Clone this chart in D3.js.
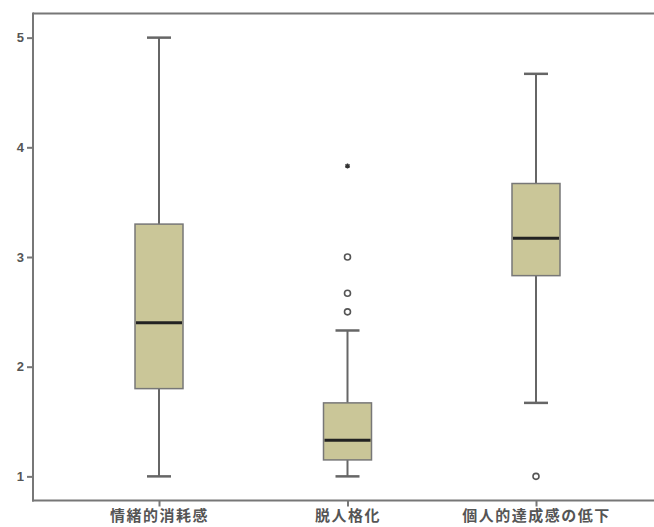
<!DOCTYPE html>
<html><head><meta charset="utf-8">
<script src="https://cdn.jsdelivr.net/npm/d3@7"></script>
<style>body{margin:0;background:#fff;}svg{display:block;}</style>
</head><body>
<svg id="c" width="654" height="527"></svg>
<script>
const categories = ["情緒的消耗感", "脱人格化", "個人的達成感の低下"];
const whiskerLow  = [1.00, 1.00, 1.67];
const q1          = [1.80, 1.15, 2.83];
const median      = [2.40, 1.33, 3.17];
const q3          = [3.30, 1.67, 3.67];
const whiskerHigh = [5.00, 2.33, 4.67];
const outlierCat  = ["脱人格化", "脱人格化", "脱人格化", "個人的達成感の低下"];
const outlierVal  = [2.50, 2.67, 3.00, 1.00];
const extremeCat  = ["脱人格化"];
const extremeVal  = [3.83];
const yTicks      = [1, 2, 3, 4, 5];

(function(){
const svg = d3.select("#c");
const pLeft = 33, pTop = 13.5, pBottom = 500.5, pRight = 660;
const y = d3.scaleLinear().domain([0.78, 5.22]).range([pBottom, pTop]);
const x = d3.scalePoint().domain(categories).range([159, 536]);
const boxW = 48, capW = 24;
const axisCol = "#777";

svg.append("line").attr("x1", pLeft).attr("x2", pRight).attr("y1", pTop).attr("y2", pTop)
  .attr("stroke", axisCol).attr("stroke-width", 2);

const boxes = categories.map((c, i) => ({c, lo: whiskerLow[i], q1: q1[i], med: median[i], q3: q3[i], hi: whiskerHigh[i]}));
const g = svg.append("g");
boxes.forEach(b => {
  const cx = x(b.c);
  g.append("line").attr("x1", cx).attr("x2", cx).attr("y1", y(b.hi)).attr("y2", y(b.q3)).attr("stroke", "#666").attr("stroke-width", 2);
  g.append("line").attr("x1", cx).attr("x2", cx).attr("y1", y(b.q1)).attr("y2", y(b.lo)).attr("stroke", "#666").attr("stroke-width", 2);
  g.append("line").attr("x1", cx - capW/2).attr("x2", cx + capW/2).attr("y1", y(b.hi)).attr("y2", y(b.hi)).attr("stroke", "#666").attr("stroke-width", 2.5);
  g.append("line").attr("x1", cx - capW/2).attr("x2", cx + capW/2).attr("y1", y(b.lo)).attr("y2", y(b.lo)).attr("stroke", "#666").attr("stroke-width", 2.5);
  g.append("rect").attr("x", cx - boxW/2).attr("y", y(b.q3)).attr("width", boxW).attr("height", y(b.q1) - y(b.q3))
    .attr("fill", "#cac698").attr("stroke", "#777").attr("stroke-width", 1.5);
  g.append("line").attr("x1", cx - boxW/2 + 1).attr("x2", cx + boxW/2 - 1).attr("y1", y(b.med)).attr("y2", y(b.med)).attr("stroke", "#222").attr("stroke-width", 3);
});

g.selectAll("circle.o").data(outlierVal.map((v, i) => ({c: outlierCat[i], v}))).join("circle")
  .attr("class", "o").attr("cx", d => x(d.c)).attr("cy", d => y(d.v)).attr("r", 3)
  .attr("fill", "#fff").attr("stroke", "#555").attr("stroke-width", 1.6);
g.selectAll("path.e").data(extremeVal.map((v, i) => ({c: extremeCat[i], v}))).join("path")
  .attr("class", "e").attr("transform", d => `translate(${x(d.c)},${y(d.v)})`)
  .attr("d", d3.symbol(d3.symbolAsterisk, 18)).attr("stroke", "#333").attr("stroke-width", 1.5).attr("fill", "none");

const yAxis = d3.axisLeft(y).tickValues(yTicks).tickSize(6).tickPadding(3).tickFormat(d3.format("d"));
const ya = svg.append("g").attr("transform", `translate(${pLeft},0)`).call(yAxis);
ya.select(".domain").remove();
ya.selectAll(".tick line").attr("stroke", axisCol).attr("stroke-width", 2);
ya.selectAll(".tick text").attr("fill", "#555").attr("font-family", "Liberation Sans, Arial, sans-serif")
  .attr("font-size", 13).attr("font-weight", "bold");
svg.append("line").attr("x1", pLeft).attr("x2", pLeft).attr("y1", pTop - 1).attr("y2", pBottom + 1)
  .attr("stroke", axisCol).attr("stroke-width", 2);

const xAxis = d3.axisBottom(x).tickSize(6).tickPadding(4);
const xa = svg.append("g").attr("transform", `translate(0,${pBottom})`).call(xAxis);
xa.select(".domain").remove();
xa.selectAll(".tick line").attr("stroke", axisCol).attr("stroke-width", 2);
xa.selectAll(".tick text").attr("fill", "#555").attr("font-family", "Noto Sans CJK JP, sans-serif")
  .attr("font-size", 15).attr("font-weight", "bold").attr("letter-spacing", 1.5);
svg.append("line").attr("x1", pLeft - 1).attr("x2", pRight).attr("y1", pBottom).attr("y2", pBottom)
  .attr("stroke", axisCol).attr("stroke-width", 2);
})();
</script>
</body></html>
